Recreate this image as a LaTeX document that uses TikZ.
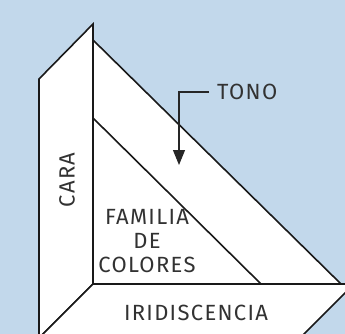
\documentclass[tikz,border=0pt]{standalone}
\usepackage{fontspec}
\setmainfont[LetterSpace=6]{Fira Sans}
\usepackage{xcolor}
\usepackage{tikz}
\usetikzlibrary{shapes,arrows,arrows.meta}
\definecolor{fondo}{RGB}{194,216,235}
\definecolor{texto}{RGB}{50,50,50}
\tikzstyle{panel} = [draw=black!90, fill=white, line width=1.6pt, line join=miter]
\tikzstyle{label} = [text=texto, font=\fontsize{22}{24}\selectfont, align=center, inner sep=0pt]
\tikzstyle{line} = [draw=black!85, line width=1.1pt, -{Triangle[width=12pt,length=15pt]}]

\begin{document}
\begin{tikzpicture}[x=1pt, y=-1pt]
    % Background
    \fill [fondo] (0,0) rectangle (345,334);
    \useasboundingbox (0,0) rectangle (345,334);
    \clip (0,0) rectangle (345,334);
    % Draw panels
    \path [panel] (39,79) -- (93,24) -- (93,284) -- (39,338) -- cycle;
    \path [panel] (93,284) -- (354,284) -- (300,338) -- (39,338) -- cycle;
    \path [panel] (93,40) -- (341,284) -- (93,284) -- cycle;
    \draw [black!90, line width=1.6pt] (93,118) -- (261,284);
    % Place nodes
    \node [label, rotate=90] (cara) at (67,180) {CARA};
    \node [label] (familia) at (147,241) {FAMILIA\\DE\\COLORES};
    \node [label] (iridiscencia) at (196,313) {IRIDISCENCIA};
    \node [label, anchor=west] (tono) at (217,92) {TONO};
    \coordinate (punta) at (179,165);
    % Draw edges
    \path [line] ([xshift=-8pt]tono.west) -| (punta);
\end{tikzpicture}
\end{document}
